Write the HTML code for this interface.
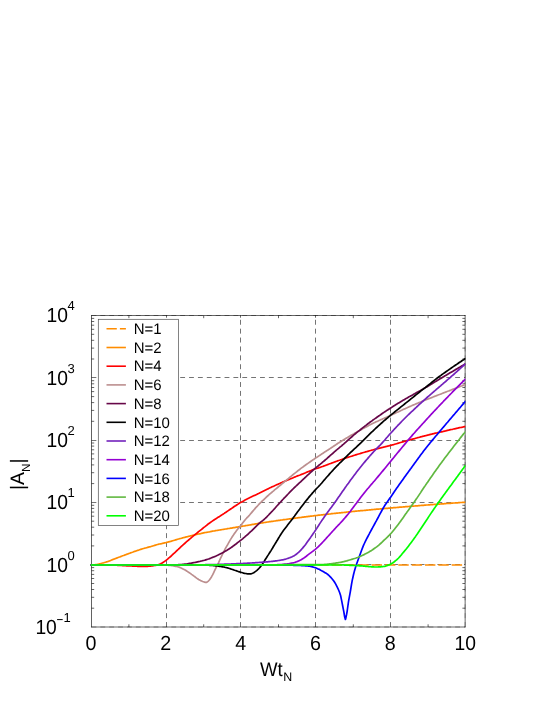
<!DOCTYPE html>
<html><head><meta charset="utf-8"><title>chart</title>
<style>html,body{margin:0;padding:0;background:#fff}svg{display:block;will-change:transform}text{font-family:"Liberation Sans",sans-serif;fill:#000;text-rendering:geometricPrecision}</style></head><body>
<svg width="545" height="705" viewBox="0 0 545 705">
<rect x="0" y="0" width="545" height="705" fill="#fff"/>
<defs><clipPath id="c"><rect x="90.3" y="315.5" width="375.1" height="311.5"/></clipPath></defs>
<g stroke="#000" stroke-width="0.55" fill="none">
<path d="M91.5 627.0 H465.1" stroke-dasharray="4.85 4.02" stroke-width="0.35"/>
<path d="M91.5 564.5 H465.1" stroke-dasharray="4.85 4.02"/>
<path d="M91.5 502.5 H465.1" stroke-dasharray="4.85 4.02"/>
<path d="M91.5 440.5 H465.1" stroke-dasharray="4.85 4.02"/>
<path d="M91.5 377.5 H465.1" stroke-dasharray="4.85 4.02"/>
<path d="M91.5 315.5 H465.1" stroke-dasharray="4.85 4.02" stroke-width="0.35"/>
<path d="M166.5 627.0 V315.5" stroke-dasharray="4.95 3.94"/>
<path d="M240.5 627.0 V315.5" stroke-dasharray="4.95 3.94"/>
<path d="M315.5 627.0 V315.5" stroke-dasharray="4.95 3.94"/>
<path d="M390.5 627.0 V315.5" stroke-dasharray="4.95 3.94"/>
<path d="M465.1 627.0 V315.5" stroke-dasharray="4.95 3.94" stroke-width="0.3"/>
</g>
<g stroke="#000" stroke-width="0.6" fill="none">
<path d="M91.50 315.20 V627.30" stroke-width="0.62"/>
<path d="M465.15 315.20 V627.30"/>
<path d="M91.20 315.50 H465.45"/>
<path d="M91.20 627.00 H465.45"/>
<path d="M91.5 608.2 h2.7 M465.1 608.2 h-2.7"/>
<path d="M91.5 597.3 h2.7 M465.1 597.3 h-2.7"/>
<path d="M91.5 589.5 h2.7 M465.1 589.5 h-2.7"/>
<path d="M91.5 583.5 h2.7 M465.1 583.5 h-2.7"/>
<path d="M91.5 578.5 h2.7 M465.1 578.5 h-2.7"/>
<path d="M91.5 574.4 h2.7 M465.1 574.4 h-2.7"/>
<path d="M91.5 570.7 h2.7 M465.1 570.7 h-2.7"/>
<path d="M91.5 567.6 h2.7 M465.1 567.6 h-2.7"/>
<path d="M91.5 545.9 h2.7 M465.1 545.9 h-2.7"/>
<path d="M91.5 535.0 h2.7 M465.1 535.0 h-2.7"/>
<path d="M91.5 527.2 h2.7 M465.1 527.2 h-2.7"/>
<path d="M91.5 521.2 h2.7 M465.1 521.2 h-2.7"/>
<path d="M91.5 516.2 h2.7 M465.1 516.2 h-2.7"/>
<path d="M91.5 512.1 h2.7 M465.1 512.1 h-2.7"/>
<path d="M91.5 508.4 h2.7 M465.1 508.4 h-2.7"/>
<path d="M91.5 505.3 h2.7 M465.1 505.3 h-2.7"/>
<path d="M91.5 483.6 h2.7 M465.1 483.6 h-2.7"/>
<path d="M91.5 472.7 h2.7 M465.1 472.7 h-2.7"/>
<path d="M91.5 464.9 h2.7 M465.1 464.9 h-2.7"/>
<path d="M91.5 458.9 h2.7 M465.1 458.9 h-2.7"/>
<path d="M91.5 453.9 h2.7 M465.1 453.9 h-2.7"/>
<path d="M91.5 449.8 h2.7 M465.1 449.8 h-2.7"/>
<path d="M91.5 446.1 h2.7 M465.1 446.1 h-2.7"/>
<path d="M91.5 443.0 h2.7 M465.1 443.0 h-2.7"/>
<path d="M91.5 421.3 h2.7 M465.1 421.3 h-2.7"/>
<path d="M91.5 410.4 h2.7 M465.1 410.4 h-2.7"/>
<path d="M91.5 402.6 h2.7 M465.1 402.6 h-2.7"/>
<path d="M91.5 396.6 h2.7 M465.1 396.6 h-2.7"/>
<path d="M91.5 391.6 h2.7 M465.1 391.6 h-2.7"/>
<path d="M91.5 387.5 h2.7 M465.1 387.5 h-2.7"/>
<path d="M91.5 383.8 h2.7 M465.1 383.8 h-2.7"/>
<path d="M91.5 380.7 h2.7 M465.1 380.7 h-2.7"/>
<path d="M91.5 359.0 h2.7 M465.1 359.0 h-2.7"/>
<path d="M91.5 348.1 h2.7 M465.1 348.1 h-2.7"/>
<path d="M91.5 340.3 h2.7 M465.1 340.3 h-2.7"/>
<path d="M91.5 334.3 h2.7 M465.1 334.3 h-2.7"/>
<path d="M91.5 329.3 h2.7 M465.1 329.3 h-2.7"/>
<path d="M91.5 325.2 h2.7 M465.1 325.2 h-2.7"/>
<path d="M91.5 321.5 h2.7 M465.1 321.5 h-2.7"/>
<path d="M91.5 318.4 h2.7 M465.1 318.4 h-2.7"/>
<path d="M128.9 627.0 v-2.7 M128.9 315.5 v2.7"/>
<path d="M166.5 315.5 v2.2"/>
<path d="M203.7 627.0 v-2.7 M203.7 315.5 v2.7"/>
<path d="M240.5 315.5 v2.2"/>
<path d="M278.5 627.0 v-2.7 M278.5 315.5 v2.7"/>
<path d="M315.5 315.5 v2.2"/>
<path d="M353.3 627.0 v-2.7 M353.3 315.5 v2.7"/>
<path d="M390.5 315.5 v2.2"/>
<path d="M428.1 627.0 v-2.7 M428.1 315.5 v2.7"/>
</g>
<g clip-path="url(#c)" fill="none" stroke-width="1.7" stroke-linejoin="round">
<path d="M91.5 565.0 H465.1" stroke="#ff8c00" stroke-dasharray="10.4 2.94"/>
<path d="M90.6 565.0 L91.6 565.0 L92.6 564.9 L93.6 564.9 L94.6 564.8 L95.6 564.6 L96.0 564.6 L96.6 564.5 L97.6 564.3 L98.6 564.1 L99.6 563.8 L100.6 563.6 L100.8 563.5 L101.6 563.3 L102.6 563.0 L103.6 562.8 L104.6 562.5 L105.6 562.2 L106.6 561.9 L107.3 561.7 L107.6 561.6 L108.6 561.2 L109.6 560.9 L110.6 560.5 L111.6 560.0 L112.6 559.6 L113.6 559.2 L113.7 559.2 L114.6 558.9 L115.6 558.5 L116.6 558.1 L117.6 557.7 L118.6 557.3 L119.6 557.0 L120.6 556.6 L121.6 556.2 L122.6 555.8 L123.6 555.5 L124.6 555.1 L125.6 554.7 L126.5 554.4 L126.6 554.4 L127.6 554.0 L128.6 553.6 L129.6 553.3 L130.6 552.9 L131.6 552.5 L132.6 552.2 L133.6 551.8 L134.6 551.4 L135.6 551.1 L136.6 550.7 L137.6 550.4 L138.6 550.1 L139.4 549.8 L139.6 549.7 L140.6 549.4 L141.6 549.1 L142.6 548.8 L143.6 548.5 L144.6 548.2 L145.6 548.0 L146.6 547.7 L147.6 547.4 L148.6 547.1 L149.6 546.8 L150.6 546.6 L151.6 546.3 L152.2 546.1 L152.6 546.0 L153.6 545.7 L154.6 545.4 L155.6 545.1 L156.6 544.8 L157.6 544.5 L158.0 544.4 L158.6 544.2 L159.6 544.0 L160.6 543.8 L161.6 543.6 L162.6 543.3 L163.6 543.1 L164.6 542.9 L165.6 542.7 L166.3 542.5 L166.6 542.4 L167.6 542.2 L168.6 541.9 L169.6 541.6 L170.6 541.4 L171.6 541.1 L172.6 540.8 L173.6 540.5 L174.6 540.2 L175.6 539.9 L176.6 539.6 L177.6 539.3 L178.6 539.0 L179.6 538.7 L180.6 538.5 L181.6 538.2 L182.6 537.9 L183.0 537.8 L183.6 537.6 L184.6 537.4 L185.6 537.1 L186.6 536.8 L187.6 536.6 L188.6 536.3 L189.6 536.1 L190.6 535.8 L191.6 535.6 L192.6 535.3 L193.6 535.1 L194.0 535.0 L194.6 534.9 L195.6 534.6 L196.6 534.4 L197.6 534.2 L198.6 534.0 L199.6 533.8 L200.6 533.6 L201.6 533.3 L202.6 533.1 L203.6 532.9 L204.6 532.7 L205.6 532.5 L206.6 532.3 L207.6 532.2 L208.6 532.0 L209.6 531.8 L210.0 531.7 L210.6 531.6 L211.6 531.4 L212.6 531.2 L213.6 531.0 L214.6 530.9 L215.6 530.7 L216.6 530.5 L217.6 530.3 L218.6 530.2 L219.6 530.0 L220.6 529.8 L221.6 529.7 L222.6 529.5 L223.6 529.3 L224.6 529.2 L225.6 529.0 L226.6 528.9 L227.6 528.7 L228.6 528.5 L229.6 528.4 L230.6 528.2 L231.6 528.1 L232.6 527.9 L233.6 527.7 L234.6 527.6 L235.6 527.4 L236.6 527.2 L237.6 527.1 L238.6 526.9 L239.6 526.7 L240.4 526.6 L240.6 526.6 L241.6 526.4 L242.6 526.2 L243.6 526.0 L244.6 525.9 L245.6 525.7 L246.6 525.5 L247.6 525.3 L248.6 525.2 L249.6 525.0 L250.6 524.8 L251.6 524.6 L252.6 524.4 L253.6 524.3 L254.6 524.1 L255.6 523.9 L256.6 523.8 L257.6 523.6 L258.6 523.4 L259.6 523.3 L260.0 523.2 L260.6 523.1 L261.6 523.0 L262.6 522.8 L263.6 522.6 L264.6 522.5 L265.6 522.3 L266.6 522.2 L267.6 522.0 L268.6 521.9 L269.6 521.7 L270.6 521.6 L271.6 521.4 L272.6 521.3 L273.6 521.2 L274.6 521.0 L275.6 520.9 L276.6 520.7 L277.6 520.6 L278.6 520.4 L279.6 520.3 L280.6 520.1 L281.6 520.0 L282.6 519.9 L283.6 519.7 L284.6 519.6 L285.6 519.5 L286.6 519.3 L287.6 519.2 L288.6 519.0 L289.6 518.9 L290.6 518.8 L291.6 518.6 L292.6 518.5 L293.6 518.4 L294.6 518.2 L295.6 518.1 L296.6 518.0 L297.6 517.8 L298.6 517.7 L299.6 517.6 L300.6 517.5 L301.6 517.3 L302.6 517.2 L303.6 517.1 L304.6 516.9 L305.6 516.8 L306.6 516.7 L307.6 516.6 L308.6 516.4 L309.6 516.3 L310.6 516.2 L311.6 516.1 L312.6 516.0 L313.6 515.8 L314.6 515.7 L315.5 515.6 L315.6 515.6 L316.6 515.5 L317.6 515.3 L318.6 515.2 L319.6 515.1 L320.6 515.0 L321.6 514.9 L322.6 514.8 L323.6 514.6 L324.6 514.5 L325.6 514.4 L326.6 514.3 L327.6 514.2 L328.6 514.1 L329.6 514.0 L330.6 513.9 L331.6 513.7 L332.6 513.6 L333.6 513.5 L334.6 513.4 L335.6 513.3 L336.6 513.2 L337.6 513.1 L338.6 513.0 L339.6 512.9 L340.6 512.8 L341.6 512.7 L342.6 512.6 L343.6 512.5 L344.6 512.4 L345.6 512.3 L346.6 512.1 L347.6 512.0 L348.6 511.9 L349.6 511.8 L350.0 511.8 L350.6 511.7 L351.6 511.6 L352.6 511.5 L353.6 511.4 L354.6 511.3 L355.6 511.2 L356.6 511.1 L357.6 511.0 L358.6 510.9 L359.6 510.8 L360.6 510.7 L361.6 510.6 L362.6 510.6 L363.6 510.5 L364.6 510.4 L365.6 510.3 L366.6 510.2 L367.6 510.1 L368.6 510.0 L369.6 509.9 L370.6 509.8 L371.6 509.7 L372.6 509.6 L373.6 509.5 L374.6 509.4 L375.6 509.3 L376.6 509.2 L377.6 509.1 L378.6 509.1 L379.6 509.0 L380.6 508.9 L381.6 508.8 L382.6 508.7 L383.6 508.6 L384.6 508.5 L385.6 508.4 L386.6 508.3 L387.6 508.3 L388.6 508.2 L389.6 508.1 L390.5 508.0 L390.6 508.0 L391.6 507.9 L392.6 507.8 L393.6 507.7 L394.6 507.6 L395.6 507.6 L396.6 507.5 L397.6 507.4 L398.6 507.3 L399.6 507.2 L400.6 507.1 L401.6 507.1 L402.6 507.0 L403.6 506.9 L404.6 506.8 L405.6 506.7 L406.6 506.6 L407.6 506.6 L408.6 506.5 L409.6 506.4 L410.6 506.3 L411.6 506.2 L412.6 506.2 L413.6 506.1 L414.6 506.0 L415.6 505.9 L416.6 505.8 L417.6 505.8 L418.6 505.7 L419.6 505.6 L420.6 505.5 L421.6 505.4 L422.6 505.4 L423.6 505.3 L424.6 505.2 L425.6 505.1 L426.6 505.0 L427.6 505.0 L428.6 504.9 L429.6 504.8 L430.6 504.7 L431.6 504.7 L432.6 504.6 L433.6 504.5 L434.6 504.4 L435.6 504.4 L436.6 504.3 L437.6 504.2 L437.7 504.2 L438.6 504.1 L439.6 504.1 L440.6 504.0 L441.6 503.9 L442.6 503.8 L443.6 503.8 L444.6 503.7 L445.6 503.6 L446.6 503.5 L447.6 503.5 L448.6 503.4 L449.6 503.3 L450.6 503.3 L451.6 503.2 L452.6 503.1 L453.6 503.0 L454.6 503.0 L455.6 502.9 L456.6 502.8 L457.6 502.8 L458.6 502.7 L459.6 502.6 L460.6 502.5 L461.6 502.5 L462.6 502.4 L463.6 502.3 L464.6 502.3 L465.6 502.2 L465.7 502.2" stroke="#ff8c00"/>
<path d="M90.6 565.0 L91.6 565.0 L92.6 565.0 L93.6 565.0 L94.6 565.0 L95.6 565.0 L96.6 565.0 L97.6 565.0 L98.6 565.0 L99.6 565.0 L100.6 565.0 L101.6 565.0 L102.6 565.0 L103.6 565.0 L104.6 565.0 L105.6 565.0 L106.6 565.1 L107.6 565.1 L108.6 565.1 L109.6 565.1 L110.6 565.1 L111.6 565.1 L112.5 565.1 L112.6 565.1 L113.6 565.1 L114.6 565.1 L115.6 565.2 L116.6 565.2 L117.6 565.3 L118.6 565.3 L119.6 565.4 L120.6 565.5 L121.6 565.5 L122.6 565.6 L123.6 565.6 L124.6 565.7 L125.0 565.7 L125.6 565.7 L126.6 565.8 L127.6 565.8 L128.6 565.9 L129.6 565.9 L130.6 566.0 L131.6 566.0 L132.6 566.1 L133.6 566.1 L134.6 566.2 L135.6 566.2 L136.6 566.2 L137.6 566.3 L138.6 566.3 L139.6 566.3 L140.6 566.4 L141.6 566.4 L142.6 566.4 L143.6 566.4 L143.7 566.4 L144.6 566.4 L145.6 566.4 L146.6 566.3 L147.6 566.3 L148.6 566.2 L149.6 566.1 L150.0 566.1 L150.6 566.1 L151.6 566.0 L152.6 565.8 L153.6 565.7 L154.6 565.5 L155.6 565.3 L156.6 565.1 L157.2 565.0 L157.6 564.9 L158.6 564.6 L159.6 564.2 L160.6 563.8 L161.0 563.6 L161.6 563.3 L162.6 562.7 L163.6 562.1 L164.6 561.4 L165.6 560.6 L166.3 560.1 L166.6 559.9 L167.6 559.1 L168.6 558.2 L169.6 557.4 L170.6 556.5 L171.6 555.6 L172.0 555.2 L172.6 554.7 L173.6 553.7 L174.6 552.8 L175.6 551.9 L176.6 550.9 L177.6 550.0 L178.6 549.0 L179.6 548.1 L180.6 547.1 L181.6 546.2 L182.6 545.3 L183.0 544.9 L183.6 544.4 L184.6 543.5 L185.6 542.6 L186.6 541.7 L187.6 540.8 L188.6 540.0 L189.6 539.1 L190.6 538.3 L191.6 537.4 L192.6 536.6 L193.6 535.7 L194.0 535.4 L194.6 534.9 L195.6 534.1 L196.6 533.3 L197.6 532.5 L198.6 531.7 L199.6 530.9 L200.6 530.1 L201.6 529.3 L202.6 528.5 L203.6 527.7 L204.6 526.9 L205.0 526.6 L205.6 526.1 L206.6 525.3 L207.6 524.5 L208.6 523.7 L209.6 523.0 L210.0 522.7 L210.6 522.3 L211.6 521.6 L212.6 520.9 L213.6 520.2 L214.6 519.5 L215.6 518.9 L216.6 518.3 L217.6 517.6 L218.6 517.0 L219.6 516.4 L220.6 515.7 L221.6 515.1 L222.6 514.4 L223.6 513.8 L224.2 513.4 L224.6 513.1 L225.6 512.5 L226.6 511.8 L227.6 511.1 L228.6 510.4 L229.6 509.7 L230.6 509.0 L231.6 508.4 L232.6 507.7 L233.6 507.0 L234.6 506.3 L235.6 505.7 L236.6 505.0 L237.6 504.4 L238.6 503.7 L239.6 503.1 L240.5 502.6 L240.6 502.5 L241.6 502.0 L242.6 501.4 L243.6 500.9 L244.6 500.3 L245.6 499.8 L246.6 499.3 L247.6 498.8 L248.6 498.3 L249.6 497.8 L250.0 497.6 L250.6 497.3 L251.6 496.8 L252.6 496.3 L253.6 495.8 L254.6 495.4 L255.6 494.9 L256.6 494.4 L257.6 493.9 L258.6 493.5 L259.6 493.0 L260.0 492.8 L260.6 492.5 L261.6 492.0 L262.6 491.5 L263.6 491.0 L264.6 490.5 L265.6 490.0 L266.6 489.5 L267.6 489.0 L268.6 488.6 L269.6 488.1 L270.6 487.6 L271.0 487.4 L271.6 487.1 L272.6 486.6 L273.6 486.2 L274.6 485.7 L275.6 485.3 L276.6 484.8 L277.6 484.4 L278.6 483.9 L279.6 483.5 L280.6 483.0 L281.6 482.6 L282.0 482.4 L282.6 482.1 L283.6 481.7 L284.6 481.3 L285.6 480.9 L286.6 480.4 L287.6 480.0 L288.6 479.6 L289.6 479.2 L290.6 478.8 L291.6 478.4 L292.6 478.0 L293.0 477.8 L293.6 477.6 L294.6 477.1 L295.6 476.7 L296.6 476.3 L297.6 475.9 L298.6 475.5 L299.6 475.2 L300.6 474.8 L301.6 474.4 L302.6 474.0 L303.6 473.6 L304.0 473.4 L304.6 473.2 L305.6 472.8 L306.6 472.3 L307.6 471.9 L308.6 471.5 L309.6 471.1 L310.6 470.7 L311.6 470.3 L312.6 469.9 L313.6 469.5 L314.6 469.1 L315.0 469.0 L315.6 468.8 L316.6 468.5 L317.6 468.2 L318.6 467.9 L319.6 467.5 L320.0 467.4 L320.6 467.2 L321.6 466.8 L322.6 466.5 L323.6 466.1 L324.6 465.7 L325.6 465.4 L326.6 465.0 L327.6 464.6 L328.6 464.2 L329.6 463.8 L330.0 463.7 L330.6 463.5 L331.6 463.1 L332.6 462.7 L333.6 462.4 L334.6 462.0 L335.6 461.6 L336.6 461.3 L337.6 460.9 L338.6 460.5 L339.6 460.2 L340.6 459.8 L341.6 459.5 L342.6 459.1 L343.6 458.8 L344.6 458.4 L344.7 458.4 L345.6 458.1 L346.6 457.8 L347.6 457.4 L348.6 457.1 L349.6 456.8 L350.6 456.5 L351.6 456.2 L352.6 455.9 L353.6 455.5 L354.6 455.2 L355.6 454.9 L356.6 454.6 L357.6 454.3 L358.6 454.0 L359.6 453.7 L360.0 453.6 L360.6 453.4 L361.6 453.1 L362.6 452.8 L363.6 452.5 L364.6 452.2 L365.6 451.9 L366.6 451.7 L367.6 451.4 L368.6 451.1 L369.6 450.8 L370.6 450.5 L371.6 450.2 L372.6 450.0 L373.6 449.7 L374.6 449.4 L375.0 449.3 L375.6 449.1 L376.6 448.9 L377.6 448.6 L378.6 448.4 L379.6 448.1 L380.6 447.9 L381.6 447.6 L382.6 447.4 L383.6 447.1 L384.6 446.9 L385.6 446.6 L386.6 446.4 L387.6 446.1 L388.6 445.9 L389.6 445.6 L390.6 445.4 L391.6 445.1 L392.0 445.0 L392.6 444.8 L393.6 444.6 L394.6 444.3 L395.6 444.0 L396.6 443.7 L397.6 443.4 L398.6 443.1 L399.6 442.8 L400.6 442.5 L401.6 442.2 L402.6 441.9 L403.6 441.6 L404.6 441.3 L405.6 441.1 L406.6 440.8 L407.2 440.6 L407.6 440.5 L408.6 440.2 L409.6 439.9 L410.6 439.7 L411.6 439.4 L412.6 439.1 L413.6 438.8 L414.6 438.6 L415.6 438.3 L416.6 438.0 L417.6 437.7 L418.6 437.5 L419.6 437.2 L420.6 436.9 L421.6 436.7 L422.6 436.4 L423.6 436.2 L424.6 435.9 L425.6 435.7 L425.8 435.6 L426.6 435.4 L427.6 435.1 L428.6 434.9 L429.6 434.6 L430.6 434.4 L431.6 434.2 L432.6 433.9 L433.6 433.7 L434.6 433.4 L435.6 433.2 L436.6 433.0 L437.6 432.7 L438.6 432.5 L439.6 432.3 L440.6 432.0 L440.7 432.0 L441.6 431.8 L442.6 431.6 L443.6 431.3 L444.6 431.1 L445.6 430.9 L446.6 430.6 L447.6 430.4 L448.6 430.2 L449.6 429.9 L450.6 429.7 L451.6 429.5 L452.6 429.3 L453.6 429.0 L454.6 428.8 L455.6 428.6 L456.6 428.4 L457.6 428.2 L458.6 427.9 L459.6 427.7 L460.6 427.5 L461.6 427.3 L462.6 427.1 L463.6 426.8 L464.6 426.6 L465.6 426.4 L465.7 426.4" stroke="#ff0000"/>
<path d="M90.6 565.0 L91.6 565.0 L92.6 565.0 L93.6 565.0 L94.6 565.0 L95.6 565.0 L96.6 565.0 L97.6 565.0 L98.6 565.0 L99.6 565.0 L100.6 565.0 L101.6 565.0 L102.6 565.0 L103.6 565.0 L104.6 565.0 L105.6 565.0 L106.6 565.0 L107.6 565.0 L108.6 565.0 L109.6 565.0 L110.6 565.0 L111.6 565.0 L112.6 565.0 L113.6 565.0 L114.6 565.0 L115.6 565.0 L116.6 565.0 L117.6 565.0 L118.6 565.0 L119.6 565.0 L120.6 565.0 L121.6 565.0 L122.6 565.0 L123.6 565.0 L124.6 565.0 L125.6 565.0 L126.6 565.0 L127.6 565.0 L128.6 565.0 L129.6 565.0 L130.6 565.0 L131.6 565.0 L132.6 565.0 L133.6 565.0 L134.6 565.0 L135.6 565.0 L136.6 565.0 L137.6 565.0 L138.6 565.0 L139.6 565.0 L140.6 565.0 L141.6 565.0 L142.6 565.0 L143.6 565.0 L144.6 565.0 L145.6 565.0 L146.6 565.0 L147.6 565.0 L148.6 565.0 L149.6 565.0 L150.6 565.0 L151.6 565.0 L152.6 565.0 L153.6 565.0 L154.6 565.0 L155.6 565.0 L156.6 565.0 L157.6 565.0 L158.6 565.0 L159.6 565.0 L160.0 565.0 L160.6 565.0 L161.6 565.0 L162.6 565.0 L163.6 565.1 L164.6 565.1 L165.6 565.1 L166.6 565.2 L167.6 565.2 L168.5 565.3 L168.6 565.3 L169.6 565.4 L170.6 565.5 L171.6 565.6 L172.6 565.7 L173.6 565.9 L174.6 566.1 L175.6 566.3 L176.6 566.5 L177.5 566.7 L177.6 566.7 L178.6 567.0 L179.6 567.4 L180.6 567.8 L181.6 568.2 L182.6 568.7 L183.0 568.9 L183.6 569.2 L184.6 569.7 L185.6 570.3 L186.6 571.0 L187.6 571.6 L188.5 572.2 L188.6 572.3 L189.6 572.9 L190.6 573.6 L191.6 574.4 L192.6 575.1 L193.6 575.8 L194.0 576.1 L194.6 576.5 L195.6 577.3 L196.6 578.1 L197.6 578.8 L198.6 579.5 L199.5 580.0 L199.6 580.1 L200.6 580.6 L201.6 581.0 L202.6 581.5 L203.6 581.8 L203.9 581.9 L204.6 582.1 L205.6 582.4 L206.1 582.4 L206.6 582.3 L207.6 581.7 L208.3 581.1 L208.6 580.8 L209.6 579.7 L210.6 578.3 L211.6 576.7 L212.6 574.9 L213.6 572.8 L214.6 570.6 L214.9 570.0 L215.6 568.6 L216.6 566.6 L217.6 564.6 L218.2 563.4 L218.6 562.6 L219.6 560.4 L220.6 558.2 L221.5 556.3 L221.6 556.1 L222.6 554.0 L223.6 552.0 L224.6 550.1 L224.8 549.7 L225.6 548.2 L226.6 546.4 L227.6 544.7 L228.1 543.8 L228.6 542.9 L229.6 541.1 L230.6 539.4 L231.4 538.1 L231.6 537.8 L232.6 536.2 L233.6 534.8 L234.6 533.3 L234.7 533.2 L235.6 531.9 L236.6 530.6 L237.6 529.3 L238.0 528.8 L238.6 528.1 L239.6 527.0 L240.4 526.0 L240.6 525.8 L241.6 524.5 L242.6 523.1 L243.6 521.8 L244.6 520.5 L245.6 519.3 L246.6 518.2 L247.6 517.2 L248.6 516.1 L249.6 515.0 L250.6 513.8 L251.6 512.6 L252.6 511.4 L253.6 510.2 L254.6 509.1 L255.0 508.6 L255.6 507.9 L256.6 506.8 L257.6 505.8 L258.6 504.7 L259.6 503.7 L260.6 502.7 L260.8 502.5 L261.6 501.7 L262.6 500.7 L263.6 499.8 L264.6 498.8 L265.6 497.9 L266.6 496.9 L267.6 496.0 L268.5 495.2 L268.6 495.1 L269.6 494.2 L270.6 493.3 L271.6 492.5 L272.6 491.6 L273.6 490.8 L274.6 489.9 L275.6 489.1 L276.6 488.3 L277.6 487.5 L278.6 486.6 L279.6 485.8 L280.6 485.0 L281.4 484.3 L281.6 484.1 L282.6 483.3 L283.6 482.5 L284.6 481.6 L285.6 480.8 L286.6 479.9 L287.6 479.1 L288.6 478.3 L289.6 477.4 L290.6 476.6 L291.6 475.8 L292.6 475.0 L293.6 474.2 L294.2 473.7 L294.6 473.4 L295.6 472.6 L296.6 471.8 L297.6 471.0 L298.6 470.2 L299.6 469.5 L300.6 468.7 L301.6 467.9 L302.6 467.2 L303.4 466.6 L303.6 466.5 L304.6 465.7 L305.6 465.0 L306.6 464.3 L307.6 463.6 L308.6 462.9 L309.6 462.2 L310.6 461.5 L311.6 460.8 L312.6 460.1 L313.6 459.5 L314.6 458.8 L315.3 458.3 L315.6 458.1 L316.6 457.4 L317.6 456.8 L318.6 456.1 L319.6 455.4 L320.6 454.8 L321.6 454.1 L322.6 453.5 L323.6 452.8 L324.6 452.1 L325.6 451.5 L326.6 450.8 L327.6 450.2 L328.6 449.5 L329.6 448.9 L330.0 448.6 L330.6 448.2 L331.6 447.5 L332.6 446.9 L333.6 446.2 L334.6 445.5 L335.6 444.9 L336.6 444.2 L337.6 443.5 L338.3 443.1 L338.6 442.9 L339.6 442.3 L340.6 441.7 L341.6 441.0 L342.6 440.4 L343.6 439.8 L344.6 439.2 L345.6 438.6 L346.6 438.0 L347.6 437.4 L348.6 436.8 L349.6 436.2 L350.6 435.6 L351.6 435.0 L352.6 434.4 L353.6 433.9 L354.6 433.3 L355.6 432.7 L356.6 432.2 L356.7 432.1 L357.6 431.6 L358.6 431.0 L359.6 430.5 L360.6 429.9 L361.6 429.4 L362.6 428.8 L363.6 428.3 L364.6 427.7 L365.6 427.2 L366.6 426.7 L367.6 426.2 L368.6 425.6 L369.6 425.1 L370.6 424.6 L371.6 424.1 L372.6 423.6 L373.6 423.1 L374.6 422.6 L375.0 422.4 L375.6 422.1 L376.6 421.6 L377.6 421.2 L378.6 420.7 L379.6 420.3 L380.6 419.8 L381.6 419.4 L382.6 418.9 L383.6 418.5 L384.6 418.0 L385.6 417.6 L386.6 417.2 L387.6 416.7 L388.6 416.3 L389.6 415.8 L390.3 415.5 L390.6 415.4 L391.6 414.9 L392.6 414.4 L393.6 414.0 L394.6 413.5 L395.6 413.1 L396.6 412.6 L397.6 412.1 L398.6 411.7 L399.6 411.2 L400.6 410.7 L401.6 410.3 L402.6 409.8 L403.6 409.3 L404.6 408.9 L405.6 408.4 L406.6 408.0 L407.6 407.5 L408.1 407.3 L408.6 407.1 L409.6 406.6 L410.6 406.2 L411.6 405.8 L412.6 405.3 L413.6 404.9 L414.6 404.5 L415.6 404.0 L416.6 403.6 L417.6 403.2 L418.6 402.8 L419.6 402.4 L420.0 402.2 L420.6 402.0 L421.6 401.5 L422.6 401.1 L423.6 400.7 L424.6 400.3 L425.6 399.9 L426.6 399.5 L427.6 399.1 L428.6 398.7 L429.6 398.4 L430.6 398.0 L431.6 397.6 L432.6 397.2 L433.6 396.8 L434.6 396.4 L435.6 396.0 L436.6 395.6 L437.6 395.2 L438.6 394.8 L439.6 394.5 L440.0 394.3 L440.6 394.1 L441.6 393.7 L442.6 393.3 L443.6 392.9 L444.6 392.5 L445.6 392.1 L446.6 391.7 L447.6 391.3 L448.6 391.0 L449.6 390.6 L450.6 390.2 L451.6 389.8 L452.6 389.4 L453.6 389.0 L454.6 388.6 L455.6 388.3 L456.6 387.9 L457.6 387.5 L458.6 387.1 L459.6 386.7 L460.6 386.3 L461.6 386.0 L462.6 385.6 L463.6 385.2 L464.6 384.8 L465.6 384.4 L465.7 384.4" stroke="#bc8f8f"/>
<path d="M90.6 565.0 L91.6 565.0 L92.6 565.0 L93.6 565.0 L94.6 565.0 L95.6 565.0 L96.6 565.0 L97.6 565.0 L98.6 565.0 L99.6 565.0 L100.6 565.0 L101.6 565.0 L102.6 565.0 L103.6 565.0 L104.6 565.0 L105.6 565.0 L106.6 565.0 L107.6 565.0 L108.6 565.0 L109.6 565.0 L110.6 565.0 L111.6 565.0 L112.6 565.0 L113.6 565.0 L114.6 565.0 L115.6 565.0 L116.6 565.0 L117.6 565.0 L118.6 565.0 L119.6 565.0 L120.6 565.0 L121.6 565.0 L122.6 565.0 L123.6 565.0 L124.6 565.0 L125.6 565.0 L126.6 565.0 L127.6 565.0 L128.6 565.0 L129.6 565.0 L130.6 565.0 L131.6 565.0 L132.6 565.0 L133.6 565.0 L134.6 565.0 L135.6 565.0 L136.6 565.0 L137.6 565.0 L138.6 565.0 L139.6 565.0 L140.6 565.0 L141.6 565.0 L142.6 565.0 L143.6 565.0 L144.6 565.0 L145.6 565.0 L146.6 565.0 L147.6 565.0 L148.6 565.0 L149.6 565.0 L150.6 565.0 L151.6 565.0 L152.6 565.0 L153.6 565.0 L154.6 565.0 L155.6 565.0 L156.6 565.0 L157.6 565.0 L158.6 565.0 L159.6 565.0 L160.6 565.0 L161.6 565.0 L162.6 565.0 L163.6 565.0 L164.6 565.0 L165.6 565.0 L166.6 565.0 L167.6 565.0 L168.6 565.0 L169.6 565.0 L170.6 565.0 L171.6 565.0 L172.0 565.0 L172.6 565.0 L173.6 565.0 L174.6 565.0 L175.6 564.9 L176.6 564.9 L177.6 564.8 L178.6 564.7 L179.6 564.7 L180.6 564.6 L181.6 564.5 L182.6 564.4 L183.0 564.4 L183.6 564.3 L184.6 564.2 L185.6 564.1 L186.6 564.0 L187.6 563.8 L188.6 563.6 L189.6 563.4 L190.6 563.3 L191.6 563.1 L192.6 562.9 L193.6 562.7 L194.0 562.6 L194.6 562.5 L195.6 562.3 L196.6 562.1 L197.6 561.9 L198.6 561.7 L199.6 561.5 L200.6 561.2 L201.6 561.0 L202.6 560.7 L203.6 560.5 L204.6 560.2 L205.0 560.1 L205.6 559.9 L206.6 559.6 L207.6 559.3 L208.6 559.0 L209.6 558.6 L210.6 558.2 L211.6 557.8 L212.6 557.4 L213.6 557.0 L214.6 556.6 L215.6 556.2 L216.0 556.0 L216.6 555.7 L217.6 555.3 L218.6 554.8 L219.6 554.3 L220.6 553.8 L221.6 553.3 L222.6 552.7 L223.6 552.2 L224.6 551.6 L225.6 551.0 L226.6 550.4 L227.0 550.2 L227.6 549.8 L228.6 549.2 L229.6 548.5 L230.6 547.9 L231.6 547.2 L232.6 546.5 L233.6 545.7 L234.6 545.0 L235.6 544.3 L236.6 543.5 L237.6 542.7 L238.6 541.9 L239.6 541.2 L240.4 540.5 L240.6 540.4 L241.6 539.6 L242.6 538.8 L243.6 537.9 L244.6 537.1 L245.6 536.2 L246.6 535.3 L247.6 534.5 L248.6 533.6 L249.0 533.2 L249.6 532.7 L250.6 531.7 L251.6 530.8 L252.6 529.8 L253.6 528.8 L254.6 527.8 L255.6 526.8 L256.6 525.8 L257.6 524.9 L258.6 523.9 L259.6 523.0 L260.0 522.7 L260.6 522.2 L261.6 521.4 L262.6 520.7 L263.6 519.9 L263.9 519.6 L264.6 519.0 L265.6 518.0 L266.6 517.1 L267.6 516.0 L268.6 515.0 L269.6 513.9 L270.6 512.9 L271.6 511.8 L272.0 511.4 L272.6 510.8 L273.6 509.7 L274.6 508.6 L275.6 507.5 L276.6 506.3 L277.6 505.2 L278.6 504.1 L279.6 503.0 L280.0 502.6 L280.6 502.0 L281.6 500.9 L282.6 499.8 L283.6 498.7 L284.6 497.7 L285.6 496.6 L286.6 495.6 L287.6 494.5 L288.6 493.5 L289.6 492.4 L290.6 491.4 L291.6 490.4 L292.6 489.4 L293.0 489.0 L293.6 488.4 L294.6 487.4 L295.6 486.5 L296.6 485.5 L297.6 484.6 L298.6 483.6 L299.6 482.7 L300.6 481.8 L301.6 480.8 L302.6 479.9 L303.6 479.0 L304.0 478.6 L304.6 478.0 L305.6 477.1 L306.6 476.2 L307.6 475.2 L308.6 474.3 L309.6 473.4 L310.6 472.4 L311.6 471.5 L312.6 470.6 L313.6 469.7 L314.6 468.8 L315.0 468.5 L315.6 468.0 L316.6 467.2 L317.6 466.4 L318.6 465.5 L319.6 464.7 L320.0 464.4 L320.6 463.9 L321.6 463.1 L322.6 462.2 L323.6 461.4 L324.6 460.5 L325.6 459.6 L326.0 459.3 L326.6 458.8 L327.6 457.9 L328.6 457.0 L329.6 456.1 L330.6 455.2 L331.6 454.3 L332.6 453.5 L333.6 452.6 L334.6 451.7 L335.6 450.8 L336.6 449.9 L337.0 449.6 L337.6 449.1 L338.6 448.3 L339.6 447.4 L340.6 446.6 L341.6 445.8 L342.5 445.0 L342.6 444.9 L343.6 444.1 L344.6 443.2 L345.6 442.3 L346.6 441.4 L347.6 440.5 L348.6 439.6 L349.6 438.7 L350.6 437.8 L351.6 437.0 L352.6 436.1 L353.6 435.2 L354.6 434.4 L355.6 433.5 L356.6 432.7 L356.7 432.6 L357.6 431.9 L358.6 431.1 L359.6 430.3 L360.6 429.5 L361.6 428.7 L362.6 427.9 L363.6 427.1 L364.6 426.3 L365.6 425.6 L366.6 424.8 L367.6 424.0 L368.6 423.3 L369.6 422.5 L370.6 421.8 L371.6 421.1 L372.6 420.3 L373.6 419.6 L374.6 418.9 L375.0 418.6 L375.6 418.2 L376.6 417.5 L377.6 416.8 L378.6 416.0 L379.6 415.4 L380.6 414.7 L381.6 414.0 L382.6 413.3 L383.6 412.6 L384.6 411.9 L385.6 411.3 L386.6 410.6 L387.6 410.0 L388.6 409.3 L389.6 408.7 L390.3 408.2 L390.6 408.0 L391.6 407.4 L392.6 406.7 L393.6 406.1 L394.6 405.5 L395.6 404.8 L396.6 404.2 L397.6 403.6 L398.6 403.0 L399.6 402.4 L400.6 401.8 L401.6 401.2 L402.6 400.6 L403.6 400.0 L404.6 399.4 L405.6 398.8 L406.6 398.3 L407.6 397.7 L408.6 397.1 L409.6 396.6 L410.6 396.0 L411.6 395.4 L412.6 394.9 L413.6 394.3 L414.6 393.8 L415.6 393.2 L416.6 392.6 L417.6 392.1 L418.6 391.5 L419.6 391.0 L420.6 390.4 L421.6 389.8 L422.6 389.3 L423.6 388.7 L424.6 388.1 L425.6 387.5 L426.6 387.0 L426.7 386.9 L427.6 386.4 L428.6 385.8 L429.6 385.2 L430.6 384.6 L431.6 384.0 L432.6 383.3 L433.6 382.7 L434.6 382.1 L435.6 381.5 L436.6 380.9 L437.6 380.3 L438.6 379.7 L439.6 379.1 L440.6 378.5 L440.7 378.4 L441.6 377.9 L442.6 377.3 L443.6 376.7 L444.6 376.1 L445.6 375.5 L446.6 374.9 L447.6 374.3 L448.6 373.7 L449.6 373.1 L450.6 372.5 L451.6 371.9 L452.6 371.4 L453.6 370.8 L454.6 370.2 L455.6 369.6 L456.6 369.0 L457.6 368.4 L458.6 367.8 L459.6 367.3 L460.6 366.7 L461.6 366.1 L462.6 365.5 L463.6 364.9 L464.6 364.3 L465.6 363.8 L465.7 363.7" stroke="#670748"/>
<path d="M90.6 565.0 L91.6 565.0 L92.6 565.0 L93.6 565.0 L94.6 565.0 L95.6 565.0 L96.6 565.0 L97.6 565.0 L98.6 565.0 L99.6 565.0 L100.6 565.0 L101.6 565.0 L102.6 565.0 L103.6 565.0 L104.6 565.0 L105.6 565.0 L106.6 565.0 L107.6 565.0 L108.6 565.0 L109.6 565.0 L110.6 565.0 L111.6 565.0 L112.6 565.0 L113.6 565.0 L114.6 565.0 L115.6 565.0 L116.6 565.0 L117.6 565.0 L118.6 565.0 L119.6 565.0 L120.6 565.0 L121.6 565.0 L122.6 565.0 L123.6 565.0 L124.6 565.0 L125.6 565.0 L126.6 565.0 L127.6 565.0 L128.6 565.0 L129.6 565.0 L130.6 565.0 L131.6 565.0 L132.6 565.0 L133.6 565.0 L134.6 565.0 L135.6 565.0 L136.6 565.0 L137.6 565.0 L138.6 565.0 L139.6 565.0 L140.6 565.0 L141.6 565.0 L142.6 565.0 L143.6 565.0 L144.6 565.0 L145.6 565.0 L146.6 565.0 L147.6 565.0 L148.6 565.0 L149.6 565.0 L150.6 565.0 L151.6 565.0 L152.6 565.0 L153.6 565.0 L154.6 565.0 L155.6 565.0 L156.6 565.0 L157.6 565.0 L158.6 565.0 L159.6 565.0 L160.6 565.0 L161.6 565.0 L162.6 565.0 L163.6 565.0 L164.6 565.0 L165.6 565.0 L166.6 565.0 L167.6 565.0 L168.6 565.0 L169.6 565.0 L170.6 565.0 L171.6 565.0 L172.6 565.0 L173.6 565.0 L174.6 565.0 L175.6 565.0 L176.6 565.0 L177.6 565.0 L178.6 565.0 L179.6 565.1 L180.6 565.1 L181.6 565.1 L182.6 565.1 L183.6 565.1 L184.6 565.1 L185.6 565.1 L186.6 565.1 L187.6 565.1 L188.6 565.1 L189.6 565.1 L190.6 565.1 L191.6 565.1 L192.6 565.1 L193.6 565.1 L194.6 565.1 L195.6 565.1 L196.6 565.1 L197.6 565.1 L198.6 565.1 L199.6 565.1 L200.6 565.1 L201.6 565.1 L202.6 565.1 L203.6 565.1 L204.6 565.1 L205.0 565.1 L205.6 565.1 L206.6 565.1 L207.6 565.2 L208.6 565.2 L209.6 565.3 L210.6 565.3 L211.6 565.4 L212.6 565.5 L213.6 565.6 L214.6 565.7 L215.6 565.8 L216.0 565.8 L216.6 565.9 L217.6 566.0 L218.6 566.1 L219.6 566.3 L220.6 566.4 L221.6 566.6 L222.6 566.8 L223.6 567.0 L224.6 567.2 L225.6 567.5 L226.6 567.7 L227.0 567.8 L227.6 567.9 L228.6 568.2 L229.6 568.5 L230.6 568.9 L231.6 569.2 L232.6 569.5 L233.6 569.9 L234.0 570.0 L234.6 570.2 L235.6 570.5 L236.6 570.9 L237.6 571.3 L238.6 571.6 L239.6 571.9 L240.4 572.2 L240.6 572.2 L241.6 572.5 L242.6 572.8 L243.6 573.1 L244.6 573.3 L245.0 573.4 L245.6 573.5 L246.6 573.7 L247.6 573.8 L248.6 573.9 L249.0 573.9 L249.6 573.9 L250.6 573.8 L251.6 573.6 L252.0 573.5 L252.6 573.3 L253.6 572.8 L254.5 572.2 L254.6 572.1 L255.6 571.4 L256.6 570.6 L257.5 569.8 L257.6 569.7 L258.6 568.8 L259.6 567.7 L260.1 567.2 L260.6 566.5 L261.6 565.2 L262.6 563.8 L263.4 562.6 L263.6 562.3 L264.6 560.7 L265.0 560.0 L265.6 559.0 L266.6 557.5 L267.6 555.9 L268.6 554.4 L269.6 552.8 L270.6 551.2 L271.0 550.6 L271.6 549.6 L272.6 548.0 L273.6 546.3 L274.6 544.6 L275.6 543.0 L276.5 541.5 L276.6 541.3 L277.6 539.7 L278.6 538.0 L279.6 536.4 L280.6 534.7 L281.6 533.2 L282.0 532.6 L282.6 531.7 L283.6 530.3 L284.6 529.0 L285.6 527.7 L286.6 526.4 L287.5 525.2 L287.6 525.1 L288.6 523.8 L289.6 522.5 L290.6 521.3 L291.6 520.0 L291.9 519.6 L292.6 518.7 L293.6 517.3 L294.6 516.0 L295.6 514.6 L296.6 513.2 L297.6 511.8 L298.0 511.3 L298.6 510.5 L299.6 509.2 L300.6 507.8 L301.6 506.5 L302.6 505.2 L303.6 503.9 L304.6 502.6 L305.6 501.3 L306.6 500.1 L307.6 498.9 L308.6 497.6 L309.6 496.4 L310.6 495.2 L311.6 494.1 L312.6 492.9 L313.6 491.8 L314.6 490.6 L315.0 490.2 L315.6 489.6 L316.6 488.5 L317.6 487.5 L318.6 486.5 L319.6 485.4 L320.0 485.0 L320.6 484.3 L321.6 483.2 L322.6 482.0 L323.6 480.8 L324.6 479.6 L325.6 478.5 L326.0 478.0 L326.6 477.3 L327.6 476.2 L328.6 475.1 L329.6 473.9 L330.6 472.8 L331.6 471.7 L332.6 470.6 L333.6 469.5 L334.6 468.4 L335.6 467.4 L336.6 466.3 L337.0 465.9 L337.6 465.3 L338.6 464.3 L339.6 463.2 L340.6 462.3 L341.6 461.3 L342.6 460.3 L343.6 459.3 L344.6 458.3 L344.7 458.2 L345.6 457.3 L346.6 456.3 L347.6 455.3 L348.0 454.9 L348.6 454.3 L349.6 453.4 L350.6 452.4 L351.6 451.5 L352.6 450.6 L353.6 449.6 L354.6 448.7 L355.6 447.8 L356.6 446.9 L357.6 445.9 L358.6 445.0 L359.0 444.6 L359.6 444.0 L360.6 443.1 L361.6 442.1 L362.6 441.1 L363.6 440.1 L364.6 439.1 L365.6 438.1 L366.6 437.1 L367.6 436.1 L368.6 435.2 L369.6 434.2 L370.6 433.2 L371.6 432.2 L372.6 431.3 L373.6 430.3 L374.6 429.4 L375.0 429.0 L375.6 428.4 L376.6 427.5 L377.6 426.6 L378.6 425.7 L379.6 424.8 L380.6 423.9 L381.6 423.0 L382.6 422.1 L383.6 421.2 L384.6 420.4 L385.6 419.5 L386.6 418.6 L387.6 417.8 L388.6 416.9 L389.6 416.1 L390.3 415.5 L390.6 415.2 L391.6 414.4 L392.6 413.6 L393.6 412.8 L394.6 412.0 L395.6 411.2 L396.6 410.4 L397.6 409.6 L398.6 408.8 L399.6 408.0 L400.0 407.7 L400.6 407.2 L401.6 406.4 L402.6 405.6 L403.6 404.8 L404.6 404.0 L405.6 403.2 L406.6 402.4 L407.6 401.6 L408.6 400.8 L409.6 400.0 L410.0 399.7 L410.6 399.2 L411.6 398.4 L412.6 397.6 L413.6 396.8 L414.6 396.0 L415.6 395.2 L416.6 394.4 L417.6 393.6 L418.6 392.8 L419.6 392.0 L420.6 391.2 L421.6 390.4 L422.6 389.6 L423.6 388.8 L424.6 388.1 L425.6 387.3 L425.8 387.1 L426.6 386.5 L427.6 385.7 L428.6 384.9 L429.6 384.1 L430.6 383.3 L431.6 382.5 L432.6 381.7 L433.6 380.9 L434.6 380.1 L435.6 379.3 L436.6 378.5 L437.6 377.8 L437.7 377.7 L438.6 377.0 L439.6 376.3 L440.6 375.6 L441.6 374.8 L442.6 374.1 L443.6 373.4 L444.6 372.7 L445.6 372.0 L446.6 371.3 L447.6 370.6 L448.6 369.9 L449.6 369.2 L450.0 368.9 L450.6 368.5 L451.6 367.8 L452.6 367.1 L453.6 366.4 L454.6 365.7 L455.6 365.0 L456.6 364.4 L457.6 363.7 L458.6 363.0 L459.6 362.3 L460.6 361.7 L461.6 361.0 L462.6 360.3 L463.6 359.7 L464.6 359.0 L465.6 358.4 L465.7 358.3" stroke="#000000"/>
<path d="M90.6 565.0 L91.6 565.0 L92.6 565.0 L93.6 565.0 L94.6 565.0 L95.6 565.0 L96.6 565.0 L97.6 565.0 L98.6 565.0 L99.6 565.0 L100.6 565.0 L101.6 565.0 L102.6 565.0 L103.6 565.0 L104.6 565.0 L105.6 565.0 L106.6 565.0 L107.6 565.0 L108.6 565.0 L109.6 565.0 L110.6 565.0 L111.6 565.0 L112.6 565.0 L113.6 565.0 L114.6 565.0 L115.6 565.0 L116.6 565.0 L117.6 565.0 L118.6 565.0 L119.6 565.0 L120.6 565.0 L121.6 565.0 L122.6 565.0 L123.6 565.0 L124.6 565.0 L125.6 565.0 L126.6 565.0 L127.6 565.0 L128.6 565.0 L129.6 565.0 L130.6 565.0 L131.6 565.0 L132.6 565.0 L133.6 565.0 L134.6 565.0 L135.6 565.0 L136.6 565.0 L137.6 565.0 L138.6 565.0 L139.6 565.0 L140.6 565.0 L141.6 565.0 L142.6 565.0 L143.6 565.0 L144.6 565.0 L145.6 565.0 L146.6 565.0 L147.6 565.0 L148.6 564.9 L149.6 564.9 L150.6 564.9 L151.6 564.9 L152.6 564.9 L153.6 564.9 L154.6 564.9 L155.6 564.9 L156.6 564.9 L157.6 564.9 L158.6 564.9 L159.6 564.9 L160.6 564.9 L161.6 564.9 L162.6 564.9 L163.6 564.9 L164.6 564.9 L165.6 564.9 L166.6 564.9 L167.6 564.9 L168.6 564.9 L169.6 564.9 L170.6 564.9 L171.6 564.9 L172.6 564.9 L173.6 564.9 L174.6 564.9 L175.6 564.9 L176.6 564.9 L177.6 564.9 L178.6 564.9 L179.6 564.9 L180.6 564.9 L181.6 564.9 L182.6 564.9 L183.6 564.9 L184.6 564.9 L185.6 564.9 L186.6 564.8 L187.6 564.8 L188.6 564.8 L189.6 564.8 L190.6 564.8 L191.6 564.8 L192.6 564.8 L193.6 564.8 L194.6 564.8 L195.6 564.8 L196.6 564.8 L197.6 564.8 L198.6 564.8 L199.6 564.8 L200.0 564.8 L200.6 564.8 L201.6 564.8 L202.6 564.8 L203.6 564.8 L204.6 564.8 L205.6 564.7 L206.6 564.7 L207.6 564.7 L208.6 564.7 L209.6 564.7 L210.6 564.7 L211.6 564.6 L212.6 564.6 L213.6 564.6 L214.6 564.6 L215.6 564.5 L216.6 564.5 L217.6 564.5 L218.6 564.4 L219.6 564.4 L220.6 564.4 L221.6 564.3 L222.6 564.3 L223.6 564.3 L224.6 564.2 L225.6 564.2 L226.6 564.1 L227.6 564.1 L228.6 564.1 L229.6 564.0 L230.6 564.0 L231.6 563.9 L232.6 563.9 L233.6 563.9 L234.6 563.8 L235.6 563.8 L236.6 563.7 L237.6 563.7 L238.6 563.7 L239.6 563.6 L240.0 563.6 L240.6 563.6 L241.6 563.5 L242.6 563.5 L243.6 563.4 L244.6 563.4 L245.6 563.3 L246.6 563.3 L247.6 563.2 L248.6 563.2 L249.6 563.1 L250.6 563.0 L251.6 563.0 L252.6 562.9 L253.6 562.8 L254.6 562.8 L255.6 562.7 L256.6 562.6 L257.6 562.6 L258.6 562.5 L259.6 562.4 L260.0 562.4 L260.6 562.4 L261.6 562.3 L262.6 562.2 L263.6 562.1 L264.6 562.1 L265.6 562.0 L266.6 561.9 L267.6 561.8 L268.6 561.7 L269.6 561.6 L270.6 561.5 L271.0 561.5 L271.6 561.4 L272.6 561.3 L273.6 561.2 L274.6 561.1 L275.6 560.9 L276.6 560.8 L277.6 560.7 L278.6 560.5 L279.6 560.3 L280.6 560.2 L281.6 560.0 L282.0 559.9 L282.6 559.8 L283.6 559.6 L284.6 559.3 L285.6 559.1 L286.6 558.8 L287.5 558.5 L287.6 558.5 L288.6 558.1 L289.6 557.8 L290.6 557.4 L291.6 557.0 L292.6 556.5 L293.0 556.3 L293.6 556.0 L294.6 555.4 L295.6 554.7 L296.6 554.0 L297.6 553.2 L298.5 552.4 L298.6 552.3 L299.6 551.4 L300.6 550.4 L301.6 549.2 L302.6 548.1 L303.6 546.9 L304.0 546.4 L304.6 545.7 L305.6 544.4 L306.6 543.0 L307.6 541.6 L308.6 540.2 L309.5 538.9 L309.6 538.8 L310.6 537.4 L311.6 535.9 L312.6 534.5 L313.6 533.1 L314.6 531.6 L315.0 531.0 L315.6 530.1 L316.6 528.6 L317.6 527.0 L318.6 525.5 L319.6 523.9 L320.6 522.4 L321.6 520.9 L322.2 520.0 L322.6 519.4 L323.6 518.0 L324.6 516.5 L325.6 515.1 L326.6 513.7 L327.1 513.0 L327.6 512.3 L328.6 510.9 L329.6 509.6 L330.6 508.2 L331.6 506.9 L332.6 505.5 L333.6 504.2 L334.6 502.8 L334.8 502.5 L335.6 501.4 L336.6 500.0 L337.6 498.5 L338.6 497.1 L339.6 495.7 L340.6 494.2 L341.6 492.8 L342.6 491.3 L343.6 489.9 L344.6 488.5 L345.6 487.1 L346.6 485.6 L347.6 484.3 L348.0 483.7 L348.6 482.9 L349.6 481.5 L350.6 480.1 L351.6 478.8 L352.6 477.4 L353.6 476.1 L354.6 474.7 L355.6 473.4 L356.6 472.1 L357.6 470.8 L358.6 469.5 L359.0 469.0 L359.6 468.2 L360.6 467.0 L361.6 465.8 L362.6 464.5 L363.6 463.3 L364.6 462.1 L365.6 460.9 L366.6 459.7 L367.6 458.6 L368.6 457.4 L369.6 456.3 L370.0 455.8 L370.6 455.1 L371.6 454.0 L372.6 452.9 L373.6 451.8 L374.6 450.7 L375.0 450.3 L375.6 449.7 L376.6 448.7 L377.6 447.7 L378.6 446.7 L379.6 445.7 L380.6 444.6 L381.0 444.2 L381.6 443.6 L382.6 442.4 L383.6 441.3 L384.6 440.2 L385.6 439.0 L386.6 437.8 L387.6 436.7 L388.6 435.5 L389.6 434.4 L390.3 433.6 L390.6 433.3 L391.6 432.2 L392.6 431.1 L393.6 430.0 L394.6 428.9 L395.6 427.9 L396.6 426.8 L397.6 425.7 L398.6 424.7 L399.6 423.6 L400.6 422.6 L401.6 421.5 L402.6 420.5 L403.6 419.5 L404.6 418.5 L405.6 417.5 L406.6 416.5 L407.6 415.5 L408.1 415.0 L408.6 414.5 L409.6 413.6 L410.6 412.6 L411.6 411.7 L412.6 410.8 L413.6 409.9 L414.1 409.4 L414.6 408.9 L415.6 408.0 L416.6 407.0 L417.6 406.1 L418.6 405.2 L419.6 404.2 L420.6 403.3 L421.6 402.4 L421.8 402.2 L422.6 401.5 L423.6 400.6 L424.6 399.7 L425.6 398.8 L426.6 397.9 L427.6 397.0 L428.6 396.2 L429.6 395.3 L430.6 394.4 L431.6 393.6 L432.6 392.7 L433.6 391.8 L434.6 390.9 L435.0 390.6 L435.6 390.1 L436.6 389.2 L437.6 388.3 L438.6 387.5 L439.6 386.6 L440.6 385.8 L441.6 384.9 L442.6 384.1 L443.6 383.2 L444.6 382.3 L445.6 381.5 L446.6 380.6 L447.6 379.7 L448.6 378.9 L449.6 378.0 L450.4 377.3 L450.6 377.1 L451.6 376.2 L452.6 375.4 L453.6 374.5 L454.6 373.6 L455.6 372.7 L456.6 371.8 L457.6 370.9 L458.6 370.0 L459.6 369.1 L460.6 368.2 L461.6 367.3 L462.6 366.4 L463.6 365.5 L464.6 364.6 L465.6 363.7 L465.7 363.6" stroke="#7221bc"/>
<path d="M90.6 565.0 L91.6 565.0 L92.6 565.0 L93.6 565.0 L94.6 565.0 L95.6 565.0 L96.6 565.0 L97.6 565.0 L98.6 565.0 L99.6 565.0 L100.6 565.0 L101.6 565.0 L102.6 565.0 L103.6 565.0 L104.6 565.0 L105.6 565.0 L106.6 565.0 L107.6 565.0 L108.6 565.0 L109.6 565.0 L110.6 565.0 L111.6 565.0 L112.6 565.0 L113.6 565.0 L114.6 565.0 L115.6 565.0 L116.6 565.0 L117.6 565.0 L118.6 565.0 L119.6 565.0 L120.6 565.0 L121.6 565.0 L122.6 565.0 L123.6 565.0 L124.6 565.0 L125.6 565.0 L126.6 565.0 L127.6 565.0 L128.6 565.0 L129.6 565.0 L130.6 565.0 L131.6 565.0 L132.6 565.0 L133.6 565.0 L134.6 565.0 L135.6 565.0 L136.6 565.0 L137.6 565.0 L138.6 565.0 L139.6 565.0 L140.6 565.0 L141.6 565.0 L142.6 565.0 L143.6 565.0 L144.6 565.0 L145.6 565.0 L146.6 565.0 L147.6 565.0 L148.6 565.0 L149.6 565.0 L150.6 565.0 L151.6 565.0 L152.6 565.0 L153.6 565.0 L154.6 565.0 L155.6 565.0 L156.6 565.0 L157.6 565.0 L158.6 565.0 L159.6 565.0 L160.6 565.0 L161.6 565.0 L162.6 565.0 L163.6 565.0 L164.6 565.0 L165.6 565.0 L166.6 565.0 L167.6 565.0 L168.6 565.0 L169.6 565.0 L170.6 565.0 L171.6 565.0 L172.6 565.0 L173.6 565.0 L174.6 565.0 L175.6 565.0 L176.6 565.0 L177.6 565.0 L178.6 565.0 L179.6 565.0 L180.6 565.0 L181.6 565.0 L182.6 565.0 L183.6 565.0 L184.6 565.0 L185.6 565.0 L186.6 565.0 L187.6 565.0 L188.6 565.0 L189.6 565.0 L190.6 565.0 L191.6 565.0 L192.6 565.0 L193.6 565.0 L194.6 565.0 L195.6 565.0 L196.6 565.0 L197.6 565.0 L198.6 565.0 L199.6 565.0 L200.6 565.0 L201.6 564.9 L202.6 564.9 L203.6 564.9 L204.6 564.9 L205.6 564.9 L206.6 564.9 L207.6 564.9 L208.6 564.9 L209.6 564.9 L210.6 564.9 L211.6 564.9 L212.6 564.9 L213.6 564.9 L214.6 564.9 L215.6 564.9 L216.6 564.9 L217.6 564.9 L218.6 564.9 L219.6 564.9 L220.6 564.9 L221.6 564.9 L222.6 564.9 L223.6 564.9 L224.6 564.9 L225.6 564.9 L226.6 564.9 L227.6 564.9 L228.6 564.9 L229.6 564.9 L230.6 564.9 L231.6 564.9 L232.6 564.9 L233.6 564.9 L234.6 564.9 L235.6 564.9 L236.6 564.9 L237.6 564.9 L238.6 564.9 L239.6 564.9 L240.6 564.9 L241.6 564.9 L242.6 564.9 L243.6 564.9 L244.6 564.9 L245.6 564.9 L246.6 564.9 L247.6 564.9 L248.6 564.9 L249.6 564.9 L250.6 564.9 L251.6 564.9 L252.6 564.9 L253.6 564.9 L254.6 564.9 L255.6 564.9 L256.6 564.9 L257.6 564.8 L258.6 564.8 L259.6 564.8 L260.6 564.8 L261.6 564.8 L262.6 564.8 L263.6 564.8 L264.6 564.8 L265.6 564.8 L266.6 564.8 L267.6 564.8 L268.6 564.8 L269.6 564.8 L270.6 564.8 L271.6 564.8 L272.6 564.8 L273.6 564.8 L274.6 564.8 L275.0 564.8 L275.6 564.8 L276.6 564.8 L277.6 564.7 L278.6 564.7 L279.6 564.6 L280.6 564.6 L281.6 564.5 L282.6 564.4 L283.6 564.3 L284.6 564.2 L285.0 564.2 L285.6 564.1 L286.6 564.0 L287.6 563.9 L288.6 563.8 L289.6 563.6 L290.6 563.4 L291.6 563.2 L292.6 563.0 L293.0 562.9 L293.6 562.8 L294.6 562.5 L295.6 562.1 L296.6 561.8 L297.6 561.4 L298.5 561.0 L298.6 561.0 L299.6 560.5 L300.6 560.0 L301.6 559.4 L302.6 558.8 L303.6 558.2 L304.0 557.9 L304.6 557.5 L305.6 556.8 L306.6 556.0 L307.6 555.2 L308.6 554.4 L309.5 553.7 L309.6 553.6 L310.6 552.9 L311.6 552.2 L312.6 551.4 L313.6 550.7 L314.6 549.9 L315.0 549.6 L315.6 549.1 L316.6 548.2 L317.6 547.3 L318.6 546.4 L319.6 545.4 L320.5 544.5 L320.6 544.4 L321.6 543.4 L322.6 542.3 L323.6 541.2 L324.6 540.1 L325.6 539.0 L326.0 538.6 L326.6 537.9 L327.6 536.8 L328.6 535.7 L329.6 534.6 L330.6 533.5 L331.5 532.5 L331.6 532.4 L332.6 531.3 L333.6 530.2 L334.6 529.1 L335.6 528.0 L336.6 526.9 L337.0 526.5 L337.6 525.9 L338.6 524.8 L339.6 523.8 L340.6 522.7 L341.6 521.6 L342.6 520.6 L343.1 520.0 L343.6 519.4 L344.6 518.3 L345.6 517.1 L346.6 515.9 L347.6 514.7 L348.0 514.2 L348.6 513.4 L349.6 512.2 L350.6 510.9 L351.6 509.5 L352.6 508.2 L353.5 507.0 L353.6 506.9 L354.6 505.5 L355.6 504.2 L356.6 502.9 L357.6 501.5 L358.6 500.2 L359.0 499.7 L359.6 498.9 L360.6 497.6 L361.6 496.3 L362.6 495.0 L363.6 493.7 L364.5 492.6 L364.6 492.5 L365.6 491.2 L366.6 490.0 L367.6 488.8 L368.6 487.7 L369.6 486.5 L370.0 486.0 L370.6 485.3 L371.6 484.1 L372.6 483.0 L373.6 481.8 L374.6 480.7 L375.0 480.2 L375.6 479.5 L376.6 478.3 L377.6 477.1 L378.6 475.9 L379.6 474.7 L380.6 473.5 L381.6 472.3 L382.6 471.1 L383.6 469.9 L384.6 468.7 L385.6 467.5 L386.6 466.3 L387.6 465.0 L388.6 463.8 L389.6 462.6 L390.5 461.5 L390.6 461.4 L391.6 460.1 L392.6 458.9 L393.6 457.7 L394.6 456.4 L395.6 455.2 L396.0 454.7 L396.6 454.0 L397.6 452.8 L398.6 451.6 L399.6 450.4 L400.6 449.2 L401.6 448.0 L402.6 446.8 L403.6 445.6 L404.1 445.0 L404.6 444.4 L405.6 443.2 L406.6 441.9 L407.2 441.2 L407.6 440.7 L408.6 439.5 L409.6 438.4 L410.6 437.2 L411.6 436.1 L412.6 434.9 L413.6 433.8 L414.6 432.7 L415.6 431.5 L416.6 430.4 L417.6 429.3 L418.6 428.2 L419.6 427.1 L420.6 426.0 L421.3 425.2 L421.6 424.9 L422.6 423.8 L423.6 422.7 L424.6 421.6 L425.6 420.5 L426.6 419.4 L427.6 418.3 L428.6 417.2 L429.6 416.1 L430.6 415.0 L431.6 413.9 L432.6 412.9 L433.6 411.8 L434.6 410.7 L435.0 410.3 L435.6 409.7 L436.6 408.6 L437.6 407.5 L438.6 406.5 L439.6 405.4 L440.6 404.4 L441.6 403.3 L442.6 402.3 L443.6 401.2 L444.6 400.2 L445.6 399.1 L446.6 398.1 L447.6 397.1 L448.6 396.0 L449.6 395.0 L450.0 394.6 L450.6 394.0 L451.6 393.0 L452.6 391.9 L453.6 390.9 L454.6 389.9 L455.6 388.9 L456.6 387.9 L457.6 386.9 L458.6 385.9 L459.6 384.9 L460.6 383.9 L461.6 382.9 L462.6 381.9 L463.6 380.9 L464.6 379.9 L465.6 378.9 L465.7 378.8" stroke="#9400d3"/>
<path d="M90.6 565.0 L91.6 565.0 L92.6 565.0 L93.6 565.0 L94.6 565.0 L95.6 565.0 L96.6 565.0 L97.6 565.0 L98.6 565.0 L99.6 565.0 L100.6 565.0 L101.6 565.0 L102.6 565.0 L103.6 565.0 L104.6 565.0 L105.6 565.0 L106.6 565.0 L107.6 565.0 L108.6 565.0 L109.6 565.0 L110.6 565.0 L111.6 565.0 L112.6 565.0 L113.6 565.0 L114.6 565.0 L115.6 565.0 L116.6 565.0 L117.6 565.0 L118.6 565.0 L119.6 565.0 L120.6 565.0 L121.6 565.0 L122.6 565.0 L123.6 565.0 L124.6 565.0 L125.6 565.0 L126.6 565.0 L127.6 565.0 L128.6 565.0 L129.6 565.0 L130.6 565.0 L131.6 565.0 L132.6 565.0 L133.6 565.0 L134.6 565.0 L135.6 565.0 L136.6 565.0 L137.6 565.0 L138.6 565.0 L139.6 565.0 L140.6 565.0 L141.6 565.0 L142.6 565.0 L143.6 565.0 L144.6 565.0 L145.6 565.0 L146.6 565.0 L147.6 565.0 L148.6 565.0 L149.6 565.0 L150.6 565.0 L151.6 565.0 L152.6 565.0 L153.6 565.0 L154.6 565.0 L155.6 565.0 L156.6 565.0 L157.6 565.0 L158.6 565.0 L159.6 565.0 L160.6 565.0 L161.6 565.0 L162.6 565.0 L163.6 565.0 L164.6 565.0 L165.6 565.0 L166.6 565.0 L167.6 565.0 L168.6 565.0 L169.6 565.0 L170.6 565.0 L171.6 565.0 L172.6 565.0 L173.6 565.0 L174.6 565.0 L175.6 565.0 L176.6 565.0 L177.6 565.0 L178.6 565.0 L179.6 565.0 L180.6 565.0 L181.6 565.0 L182.6 565.0 L183.6 565.0 L184.6 565.0 L185.6 565.0 L186.6 565.0 L187.6 565.0 L188.6 565.0 L189.6 565.0 L190.6 565.0 L191.6 565.0 L192.6 565.0 L193.6 565.0 L194.6 565.0 L195.6 565.0 L196.6 565.0 L197.6 565.0 L198.6 565.0 L199.6 565.0 L200.6 565.0 L201.6 565.0 L202.6 565.0 L203.6 565.0 L204.6 565.0 L205.6 565.0 L206.6 565.0 L207.6 565.0 L208.6 565.0 L209.6 565.0 L210.6 565.0 L211.6 565.0 L212.6 565.0 L213.6 565.0 L214.6 565.0 L215.6 565.0 L216.6 565.0 L217.6 565.0 L218.6 565.0 L219.6 565.0 L220.6 565.0 L221.6 565.0 L222.6 565.0 L223.6 565.0 L224.6 565.0 L225.6 565.0 L226.6 565.0 L227.6 565.0 L228.6 565.0 L229.6 565.0 L230.6 565.0 L231.6 565.0 L232.6 565.0 L233.6 565.0 L234.6 565.0 L235.6 565.0 L236.6 565.0 L237.6 565.0 L238.6 565.0 L239.6 565.0 L240.6 565.0 L241.6 565.1 L242.6 565.1 L243.6 565.1 L244.6 565.1 L245.6 565.1 L246.6 565.1 L247.6 565.1 L248.6 565.1 L249.6 565.1 L250.6 565.1 L251.6 565.1 L252.6 565.1 L253.6 565.1 L254.6 565.1 L255.6 565.1 L256.6 565.1 L257.6 565.1 L258.6 565.1 L259.6 565.1 L260.6 565.1 L261.6 565.1 L262.6 565.1 L263.6 565.1 L264.6 565.1 L265.6 565.1 L266.6 565.1 L267.6 565.1 L268.6 565.1 L269.6 565.1 L270.6 565.1 L271.6 565.1 L272.6 565.1 L273.6 565.1 L274.6 565.1 L275.6 565.1 L276.6 565.1 L277.6 565.1 L278.6 565.1 L279.6 565.1 L280.6 565.1 L281.6 565.1 L282.6 565.1 L283.6 565.1 L284.6 565.1 L285.0 565.1 L285.6 565.1 L286.6 565.1 L287.6 565.1 L288.6 565.1 L289.6 565.2 L290.6 565.2 L291.6 565.2 L292.6 565.2 L293.6 565.3 L294.6 565.3 L295.6 565.3 L296.6 565.4 L297.6 565.4 L298.6 565.4 L299.6 565.5 L300.0 565.5 L300.6 565.5 L301.6 565.6 L302.6 565.6 L303.6 565.7 L304.6 565.7 L305.6 565.8 L306.6 565.9 L307.6 566.0 L308.6 566.1 L309.5 566.2 L309.6 566.2 L310.6 566.4 L311.6 566.6 L312.6 566.9 L313.6 567.2 L314.6 567.5 L315.0 567.6 L315.6 567.8 L316.6 568.2 L317.6 568.7 L318.6 569.1 L319.6 569.6 L320.6 570.2 L321.4 570.6 L321.6 570.7 L322.6 571.2 L323.6 571.8 L324.6 572.4 L325.6 573.0 L326.6 573.6 L327.6 574.3 L327.8 574.5 L328.6 575.2 L329.6 576.1 L330.6 577.2 L331.1 577.7 L331.6 578.3 L332.6 579.5 L333.6 580.8 L334.3 581.8 L334.6 582.3 L335.6 583.9 L336.6 585.8 L337.5 587.6 L337.6 587.8 L338.6 590.0 L339.6 592.5 L340.6 595.6 L340.7 596.0 L341.6 600.3 L342.0 602.4 L342.6 605.5 L343.6 610.6 L343.8 611.6 L344.6 616.5 L345.4 619.4 L345.6 619.2 L346.6 614.4 L347.1 611.6 L347.6 608.0 L348.4 602.4 L348.6 601.2 L349.6 595.7 L350.3 591.8 L350.6 590.0 L351.6 583.9 L352.1 581.2 L352.6 578.7 L353.6 574.3 L354.4 571.1 L354.6 570.4 L355.6 567.0 L356.1 565.5 L356.6 564.0 L357.6 561.2 L358.6 558.5 L359.6 555.7 L360.6 553.0 L361.6 550.3 L362.6 547.6 L363.6 545.2 L363.9 544.5 L364.6 543.0 L365.6 540.9 L366.6 538.9 L367.6 537.0 L368.6 535.1 L369.4 533.6 L369.6 533.2 L370.6 531.3 L371.6 529.5 L372.6 527.7 L373.6 525.8 L374.6 524.0 L375.6 522.2 L376.6 520.4 L376.7 520.2 L377.6 518.5 L378.6 516.6 L379.6 514.7 L380.6 512.8 L381.6 511.0 L382.6 509.2 L383.6 507.5 L384.0 506.8 L384.6 505.8 L385.6 504.3 L386.6 502.9 L387.6 501.4 L388.6 500.0 L389.6 498.6 L390.3 497.6 L390.6 497.2 L391.6 495.7 L392.6 494.2 L393.6 492.7 L394.6 491.2 L395.6 489.8 L396.0 489.2 L396.6 488.3 L397.6 486.9 L398.6 485.5 L399.6 484.1 L400.6 482.7 L401.6 481.3 L402.6 479.9 L403.6 478.5 L404.6 477.1 L405.6 475.7 L406.6 474.3 L407.6 472.9 L408.6 471.6 L409.6 470.2 L410.6 468.8 L410.9 468.4 L411.6 467.4 L412.6 466.1 L413.6 464.7 L414.6 463.3 L415.6 461.9 L416.6 460.6 L417.6 459.2 L418.6 457.8 L419.6 456.5 L420.6 455.1 L421.6 453.8 L422.6 452.5 L423.6 451.1 L424.6 449.8 L425.6 448.6 L425.8 448.3 L426.6 447.3 L427.6 446.0 L428.6 444.8 L429.6 443.6 L430.6 442.3 L431.6 441.1 L432.6 439.9 L433.6 438.7 L434.6 437.5 L435.6 436.3 L436.6 435.2 L437.6 434.0 L438.6 432.8 L439.6 431.6 L440.6 430.4 L440.7 430.3 L441.6 429.2 L442.6 428.0 L443.6 426.9 L444.6 425.7 L445.6 424.5 L446.6 423.3 L447.6 422.2 L448.6 421.0 L449.6 419.8 L450.6 418.6 L451.6 417.5 L452.6 416.3 L453.6 415.1 L454.6 414.0 L455.6 412.8 L456.6 411.6 L457.6 410.5 L458.6 409.3 L459.6 408.1 L460.6 407.0 L461.6 405.8 L462.6 404.6 L463.6 403.4 L464.6 402.3 L465.6 401.1 L465.7 401.0" stroke="#0000ff"/>
<path d="M90.6 565.0 L91.6 565.0 L92.6 565.0 L93.6 565.0 L94.6 565.0 L95.6 565.0 L96.6 565.0 L97.6 565.0 L98.6 565.0 L99.6 565.0 L100.6 565.0 L101.6 565.0 L102.6 565.0 L103.6 565.0 L104.6 565.0 L105.6 565.0 L106.6 565.0 L107.6 565.0 L108.6 565.0 L109.6 565.0 L110.6 565.0 L111.6 565.0 L112.6 565.0 L113.6 565.0 L114.6 565.0 L115.6 565.0 L116.6 565.0 L117.6 565.0 L118.6 565.0 L119.6 565.0 L120.6 565.0 L121.6 565.0 L122.6 565.0 L123.6 565.0 L124.6 565.0 L125.6 565.0 L126.6 565.0 L127.6 565.0 L128.6 565.0 L129.6 565.0 L130.6 565.0 L131.6 565.0 L132.6 565.0 L133.6 565.0 L134.6 565.0 L135.6 565.0 L136.6 565.0 L137.6 565.0 L138.6 565.0 L139.6 565.0 L140.6 565.0 L141.6 565.0 L142.6 565.0 L143.6 565.0 L144.6 565.0 L145.6 565.0 L146.6 565.0 L147.6 565.0 L148.6 565.0 L149.6 565.0 L150.6 565.0 L151.6 565.0 L152.6 565.0 L153.6 565.0 L154.6 565.0 L155.6 565.0 L156.6 565.0 L157.6 565.0 L158.6 565.0 L159.6 565.0 L160.6 565.0 L161.6 565.0 L162.6 565.0 L163.6 565.0 L164.6 565.0 L165.6 565.0 L166.6 565.0 L167.6 565.0 L168.6 565.0 L169.6 565.0 L170.6 565.0 L171.6 565.0 L172.6 565.0 L173.6 565.0 L174.6 565.0 L175.6 565.0 L176.6 565.0 L177.6 565.0 L178.6 565.0 L179.6 565.0 L180.6 565.0 L181.6 565.0 L182.6 565.0 L183.6 565.0 L184.6 565.0 L185.6 565.0 L186.6 565.0 L187.6 565.0 L188.6 565.0 L189.6 565.0 L190.6 565.0 L191.6 565.0 L192.6 565.0 L193.6 565.0 L194.6 564.9 L195.6 564.9 L196.6 564.9 L197.6 564.9 L198.6 564.9 L199.6 564.9 L200.6 564.9 L201.6 564.9 L202.6 564.9 L203.6 564.9 L204.6 564.9 L205.6 564.9 L206.6 564.9 L207.6 564.9 L208.6 564.9 L209.6 564.9 L210.6 564.9 L211.6 564.9 L212.6 564.9 L213.6 564.9 L214.6 564.9 L215.6 564.9 L216.6 564.9 L217.6 564.9 L218.6 564.9 L219.6 564.9 L220.6 564.9 L221.6 564.9 L222.6 564.9 L223.6 564.9 L224.6 564.9 L225.6 564.9 L226.6 564.9 L227.6 564.9 L228.6 564.9 L229.6 564.9 L230.6 564.9 L231.6 564.9 L232.6 564.9 L233.6 564.9 L234.6 564.9 L235.6 564.9 L236.6 564.9 L237.6 564.9 L238.6 564.9 L239.6 564.9 L240.6 564.9 L241.6 564.9 L242.6 564.9 L243.6 564.9 L244.6 564.9 L245.6 564.9 L246.6 564.9 L247.6 564.9 L248.6 564.9 L249.6 564.8 L250.6 564.8 L251.6 564.8 L252.6 564.8 L253.6 564.8 L254.6 564.8 L255.6 564.8 L256.6 564.8 L257.6 564.8 L258.6 564.8 L259.6 564.8 L260.6 564.8 L261.6 564.8 L262.6 564.8 L263.6 564.8 L264.6 564.8 L265.6 564.8 L266.6 564.8 L267.6 564.8 L268.6 564.8 L269.6 564.8 L270.6 564.8 L271.6 564.8 L272.6 564.8 L273.6 564.8 L274.6 564.8 L275.6 564.8 L276.6 564.8 L277.6 564.8 L278.6 564.8 L279.6 564.8 L280.6 564.8 L281.6 564.8 L282.6 564.8 L283.6 564.7 L284.6 564.7 L285.6 564.7 L286.6 564.7 L287.6 564.7 L288.6 564.7 L289.6 564.7 L290.6 564.7 L291.6 564.7 L292.6 564.7 L293.6 564.7 L294.6 564.7 L295.6 564.7 L296.6 564.7 L297.6 564.7 L298.6 564.7 L299.6 564.7 L300.6 564.7 L301.6 564.7 L302.6 564.7 L303.6 564.7 L304.6 564.7 L305.6 564.7 L306.6 564.7 L307.6 564.7 L308.6 564.7 L309.6 564.6 L310.6 564.6 L311.6 564.6 L312.6 564.6 L313.6 564.6 L314.6 564.6 L315.6 564.6 L316.6 564.6 L317.6 564.6 L318.6 564.6 L319.6 564.6 L320.0 564.6 L320.6 564.6 L321.6 564.6 L322.6 564.5 L323.6 564.5 L324.6 564.4 L325.6 564.3 L326.6 564.3 L327.6 564.2 L328.6 564.1 L329.6 563.9 L330.6 563.8 L331.6 563.7 L332.6 563.5 L333.6 563.4 L334.6 563.3 L335.6 563.1 L336.6 562.9 L337.6 562.8 L338.6 562.6 L339.6 562.5 L340.0 562.4 L340.6 562.3 L341.6 562.1 L342.6 561.9 L343.6 561.7 L344.6 561.4 L345.6 561.1 L346.6 560.9 L347.6 560.6 L348.6 560.3 L349.6 560.0 L350.6 559.7 L351.6 559.4 L352.6 559.1 L353.6 558.8 L354.6 558.5 L355.6 558.2 L356.6 557.8 L357.6 557.5 L358.3 557.2 L358.6 557.1 L359.6 556.7 L360.6 556.3 L361.6 555.8 L362.6 555.3 L363.6 554.9 L364.6 554.3 L365.6 553.8 L366.6 553.3 L367.5 552.8 L367.6 552.7 L368.6 552.2 L369.6 551.6 L370.6 551.0 L371.6 550.4 L372.6 549.7 L373.6 549.0 L374.6 548.3 L375.6 547.6 L376.6 546.9 L376.7 546.8 L377.6 546.1 L378.6 545.3 L379.6 544.4 L380.6 543.5 L381.6 542.6 L382.6 541.7 L383.6 540.7 L384.6 539.7 L385.6 538.8 L385.9 538.5 L386.6 537.8 L387.6 536.9 L388.6 535.9 L389.6 534.9 L390.5 533.9 L390.6 533.8 L391.6 532.7 L392.6 531.5 L393.6 530.3 L394.6 529.1 L395.6 527.8 L396.6 526.5 L397.6 525.2 L398.6 523.9 L398.7 523.8 L399.6 522.6 L400.6 521.2 L401.6 519.8 L402.6 518.4 L403.6 517.0 L404.6 515.5 L405.6 514.1 L406.6 512.7 L407.0 512.1 L407.6 511.3 L408.6 509.9 L409.6 508.5 L410.6 507.1 L411.6 505.7 L412.6 504.3 L413.6 502.9 L413.9 502.5 L414.6 501.5 L415.6 500.0 L416.6 498.6 L417.6 497.1 L418.6 495.6 L419.6 494.1 L420.6 492.6 L421.6 491.0 L422.6 489.5 L423.6 488.0 L424.6 486.6 L425.6 485.1 L425.8 484.8 L426.6 483.6 L427.6 482.2 L428.6 480.7 L429.6 479.3 L430.6 477.8 L431.6 476.4 L432.6 475.0 L433.6 473.5 L434.6 472.1 L435.6 470.7 L436.6 469.3 L437.6 467.9 L438.6 466.5 L439.6 465.1 L440.6 463.7 L440.7 463.6 L441.6 462.4 L442.6 461.0 L443.6 459.7 L444.6 458.3 L445.6 457.0 L446.6 455.7 L447.6 454.4 L448.6 453.1 L449.6 451.8 L450.6 450.5 L451.6 449.2 L452.6 447.9 L453.6 446.6 L454.6 445.3 L455.6 444.0 L456.6 442.7 L457.6 441.4 L458.6 440.2 L459.6 438.9 L460.6 437.6 L461.6 436.4 L462.6 435.1 L463.6 433.9 L464.6 432.7 L465.6 431.4 L465.7 431.3" stroke="#60b840"/>
<path d="M90.6 565.0 L91.6 565.0 L92.6 565.0 L93.6 565.0 L94.6 565.0 L95.6 565.0 L96.6 565.0 L97.6 565.0 L98.6 565.0 L99.6 565.0 L100.6 565.0 L101.6 565.0 L102.6 565.0 L103.6 565.0 L104.6 565.0 L105.6 565.0 L106.6 565.0 L107.6 565.0 L108.6 565.0 L109.6 565.0 L110.6 565.0 L111.6 565.0 L112.6 565.0 L113.6 565.0 L114.6 565.0 L115.6 565.0 L116.6 565.0 L117.6 565.0 L118.6 565.0 L119.6 565.0 L120.6 565.0 L121.6 565.0 L122.6 565.0 L123.6 565.0 L124.6 565.0 L125.6 565.0 L126.6 565.0 L127.6 565.0 L128.6 565.0 L129.6 565.0 L130.6 565.0 L131.6 565.0 L132.6 565.0 L133.6 565.0 L134.6 565.0 L135.6 565.0 L136.6 565.0 L137.6 565.0 L138.6 565.0 L139.6 565.0 L140.6 565.0 L141.6 565.0 L142.6 565.0 L143.6 565.0 L144.6 565.0 L145.6 565.0 L146.6 565.0 L147.6 565.0 L148.6 565.0 L149.6 565.0 L150.6 565.0 L151.6 565.0 L152.6 565.0 L153.6 565.0 L154.6 565.0 L155.6 565.0 L156.6 565.0 L157.6 565.0 L158.6 565.0 L159.6 565.0 L160.6 565.0 L161.6 565.0 L162.6 565.0 L163.6 565.0 L164.6 565.0 L165.6 565.0 L166.6 565.0 L167.6 565.0 L168.6 565.0 L169.6 565.0 L170.6 565.0 L171.6 565.0 L172.6 565.0 L173.6 565.0 L174.6 565.0 L175.6 565.0 L176.6 565.0 L177.6 565.0 L178.6 565.0 L179.6 565.0 L180.6 565.0 L181.6 565.0 L182.6 565.0 L183.6 565.0 L184.6 565.0 L185.6 565.0 L186.6 565.0 L187.6 565.0 L188.6 565.0 L189.6 565.0 L190.6 565.0 L191.6 565.0 L192.6 565.0 L193.6 565.0 L194.6 565.0 L195.6 565.0 L196.6 565.0 L197.6 565.0 L198.6 565.0 L199.6 565.0 L200.6 565.0 L201.6 565.0 L202.6 565.0 L203.6 565.0 L204.6 565.0 L205.6 565.0 L206.6 565.0 L207.6 565.0 L208.6 565.0 L209.6 565.0 L210.6 565.0 L211.6 565.0 L212.6 565.0 L213.6 565.0 L214.6 565.0 L215.6 565.0 L216.6 565.0 L217.6 565.0 L218.6 565.0 L219.6 565.0 L220.6 565.0 L221.6 565.0 L222.6 565.0 L223.6 565.0 L224.6 565.0 L225.6 565.0 L226.6 565.0 L227.6 565.0 L228.6 565.0 L229.6 565.0 L230.6 565.0 L231.6 565.0 L232.6 565.0 L233.6 565.0 L234.6 565.0 L235.6 565.0 L236.6 565.0 L237.6 565.0 L238.6 565.0 L239.6 565.0 L240.6 565.0 L241.6 565.0 L242.6 565.0 L243.6 565.0 L244.6 565.0 L245.6 565.0 L246.6 565.0 L247.6 565.0 L248.6 565.0 L249.6 565.0 L250.6 565.0 L251.6 565.0 L252.6 565.0 L253.6 565.0 L254.6 565.0 L255.6 565.0 L256.6 565.0 L257.6 565.0 L258.6 565.0 L259.6 565.0 L260.6 565.0 L261.6 565.0 L262.6 565.0 L263.6 565.0 L264.6 565.0 L265.6 565.0 L266.6 565.0 L267.6 565.0 L268.6 565.0 L269.6 565.0 L270.6 565.0 L271.6 565.0 L272.6 565.0 L273.6 565.0 L274.6 565.0 L275.6 565.0 L276.6 565.0 L277.6 565.0 L278.6 565.0 L279.6 565.0 L280.6 565.0 L281.6 565.0 L282.6 565.0 L283.6 565.0 L284.6 565.0 L285.6 565.0 L286.6 565.0 L287.6 565.0 L288.6 565.0 L289.6 565.0 L290.6 565.0 L291.6 565.0 L292.6 565.0 L293.6 565.0 L294.6 565.0 L295.6 565.0 L296.6 565.0 L297.6 565.0 L298.6 565.0 L299.6 565.0 L300.6 565.0 L301.6 565.0 L302.6 565.0 L303.6 565.0 L304.6 565.0 L305.6 565.0 L306.6 565.0 L307.6 565.0 L308.6 565.0 L309.6 565.0 L310.6 565.0 L311.6 565.0 L312.6 565.0 L313.6 565.0 L314.6 565.0 L315.6 565.0 L316.6 565.0 L317.6 565.0 L318.6 565.0 L319.6 565.0 L320.6 565.0 L321.6 565.0 L322.6 565.0 L323.6 565.0 L324.6 565.0 L325.6 565.0 L326.6 565.0 L327.6 565.0 L328.6 565.0 L329.6 565.0 L330.6 565.0 L331.6 565.0 L332.6 565.0 L333.6 565.0 L334.6 565.0 L335.6 565.0 L336.6 565.0 L337.6 565.0 L338.6 565.0 L339.6 565.0 L340.0 565.0 L340.6 565.0 L341.6 565.0 L342.6 565.0 L343.6 565.0 L344.6 565.1 L345.6 565.1 L346.6 565.1 L347.6 565.2 L348.6 565.2 L349.6 565.3 L350.6 565.3 L351.6 565.4 L352.6 565.4 L353.6 565.5 L354.6 565.5 L355.6 565.6 L356.6 565.6 L357.6 565.7 L358.3 565.7 L358.6 565.7 L359.6 565.8 L360.6 565.8 L361.6 565.9 L362.6 566.0 L363.6 566.1 L364.6 566.2 L365.6 566.3 L366.6 566.4 L367.6 566.5 L368.6 566.6 L369.6 566.7 L370.6 566.7 L371.6 566.8 L372.6 566.9 L373.6 566.9 L374.6 567.0 L375.6 567.0 L376.6 567.0 L376.7 567.0 L377.6 567.0 L378.6 566.9 L379.6 566.9 L380.6 566.8 L381.6 566.7 L382.6 566.6 L383.6 566.5 L384.0 566.4 L384.6 566.3 L385.6 566.1 L386.6 565.8 L387.6 565.4 L388.6 565.0 L389.6 564.6 L390.5 564.2 L390.6 564.2 L391.6 563.6 L392.6 563.0 L393.6 562.3 L394.6 561.5 L395.6 560.7 L396.6 559.9 L396.9 559.6 L397.6 559.0 L398.6 558.0 L399.6 556.9 L400.6 555.7 L401.6 554.6 L402.6 553.3 L403.6 552.1 L404.2 551.4 L404.6 550.9 L405.6 549.7 L406.6 548.5 L407.6 547.2 L408.6 545.9 L409.6 544.6 L410.6 543.3 L411.6 541.9 L412.6 540.6 L413.4 539.5 L413.6 539.2 L414.6 537.8 L415.6 536.4 L416.6 534.9 L417.6 533.5 L418.6 532.0 L419.6 530.5 L420.6 529.0 L421.6 527.5 L422.6 526.0 L423.6 524.5 L424.6 523.0 L425.6 521.5 L426.6 520.0 L427.6 518.5 L428.6 516.9 L429.6 515.4 L430.6 513.9 L431.6 512.4 L431.7 512.3 L432.6 511.0 L433.6 509.5 L434.6 508.1 L435.6 506.6 L436.6 505.2 L437.6 503.7 L438.4 502.6 L438.6 502.3 L439.6 500.9 L440.6 499.5 L441.6 498.1 L442.6 496.7 L443.6 495.3 L444.6 493.9 L445.6 492.6 L446.6 491.2 L447.6 489.8 L448.6 488.5 L449.6 487.1 L450.6 485.7 L451.6 484.4 L452.6 483.0 L453.6 481.6 L454.6 480.3 L455.6 478.9 L456.6 477.5 L457.6 476.2 L458.6 474.8 L459.6 473.4 L460.6 472.1 L461.6 470.7 L462.6 469.3 L463.6 468.0 L464.6 466.6 L465.6 465.2 L465.7 465.1" stroke="#00ff00"/>
</g>
<rect x="98.3" y="319.3" width="80.3" height="206.2" fill="#fff" stroke="#4d4d4d" stroke-width="0.7"/>
<path d="M106.5 328.8 H125.9" stroke="#ff8c00" stroke-width="1.6" stroke-dasharray="10.3 3.1" fill="none"/>
<text transform="translate(133.7 334.00) scale(0.985 1)" font-size="15.2">N=1</text>
<path d="M106.5 347.5 H125.9" stroke="#ff8c00" stroke-width="1.6" fill="none"/>
<text transform="translate(133.7 352.70) scale(0.985 1)" font-size="15.2">N=2</text>
<path d="M106.5 366.2 H125.9" stroke="#ff0000" stroke-width="1.6" fill="none"/>
<text transform="translate(133.7 371.40) scale(0.985 1)" font-size="15.2">N=4</text>
<path d="M106.5 384.9 H125.9" stroke="#bc8f8f" stroke-width="1.6" fill="none"/>
<text transform="translate(133.7 390.10) scale(0.985 1)" font-size="15.2">N=6</text>
<path d="M106.5 403.6 H125.9" stroke="#670748" stroke-width="1.6" fill="none"/>
<text transform="translate(133.7 408.80) scale(0.985 1)" font-size="15.2">N=8</text>
<path d="M106.5 422.3 H125.9" stroke="#000000" stroke-width="1.6" fill="none"/>
<text transform="translate(133.7 427.50) scale(0.985 1)" font-size="15.2">N=10</text>
<path d="M106.5 441.0 H125.9" stroke="#7221bc" stroke-width="1.6" fill="none"/>
<text transform="translate(133.7 446.20) scale(0.985 1)" font-size="15.2">N=12</text>
<path d="M106.5 459.7 H125.9" stroke="#9400d3" stroke-width="1.6" fill="none"/>
<text transform="translate(133.7 464.90) scale(0.985 1)" font-size="15.2">N=14</text>
<path d="M106.5 478.4 H125.9" stroke="#0000ff" stroke-width="1.6" fill="none"/>
<text transform="translate(133.7 483.60) scale(0.985 1)" font-size="15.2">N=16</text>
<path d="M106.5 497.1 H125.9" stroke="#60b840" stroke-width="1.6" fill="none"/>
<text transform="translate(133.7 502.30) scale(0.985 1)" font-size="15.2">N=18</text>
<path d="M106.5 515.8 H125.9" stroke="#00ff00" stroke-width="1.6" fill="none"/>
<text transform="translate(133.7 521.00) scale(0.985 1)" font-size="15.2">N=20</text>
<text transform="translate(35.40 634.10) scale(0.940 1)" font-size="20.5">10</text>
<path d="M57.1 619.60 H62.7" stroke="#000" stroke-width="1.0" fill="none"/>
<text x="63.60" y="622.20" font-size="13.0">1</text>
<text transform="translate(46.60 571.72) scale(0.940 1)" font-size="20.5">10</text>
<text x="67.45" y="559.82" font-size="13.0">0</text>
<text transform="translate(46.60 509.34) scale(0.940 1)" font-size="20.5">10</text>
<text x="67.45" y="497.44" font-size="13.0">1</text>
<text transform="translate(46.60 446.96) scale(0.940 1)" font-size="20.5">10</text>
<text x="67.45" y="435.06" font-size="13.0">2</text>
<text transform="translate(46.60 384.58) scale(0.940 1)" font-size="20.5">10</text>
<text x="67.45" y="372.68" font-size="13.0">3</text>
<text transform="translate(46.60 322.20) scale(0.940 1)" font-size="20.5">10</text>
<text x="67.45" y="310.30" font-size="13.0">4</text>
<text transform="translate(91.00 650.00) scale(0.960 1)" font-size="20.5" text-anchor="middle">0</text>
<text transform="translate(165.80 650.00) scale(0.960 1)" font-size="20.5" text-anchor="middle">2</text>
<text transform="translate(240.60 650.00) scale(0.960 1)" font-size="20.5" text-anchor="middle">4</text>
<text transform="translate(315.40 650.00) scale(0.960 1)" font-size="20.5" text-anchor="middle">6</text>
<text transform="translate(390.20 650.00) scale(0.960 1)" font-size="20.5" text-anchor="middle">8</text>
<text transform="translate(465.30 650.00) scale(0.940 1)" font-size="20.5" text-anchor="middle">10</text>
<text transform="translate(259.90 675.60) scale(0.940 1)" font-size="19.8">Wt</text>
<text x="283.30" y="680.90" font-size="12.4">N</text>
<text transform="translate(24.2 490) rotate(-90)" font-size="19.5">|A<tspan dy="5.3" font-size="11.8">N</tspan><tspan dy="-5.3" font-size="19.5">|</tspan></text>
</svg></body></html>
